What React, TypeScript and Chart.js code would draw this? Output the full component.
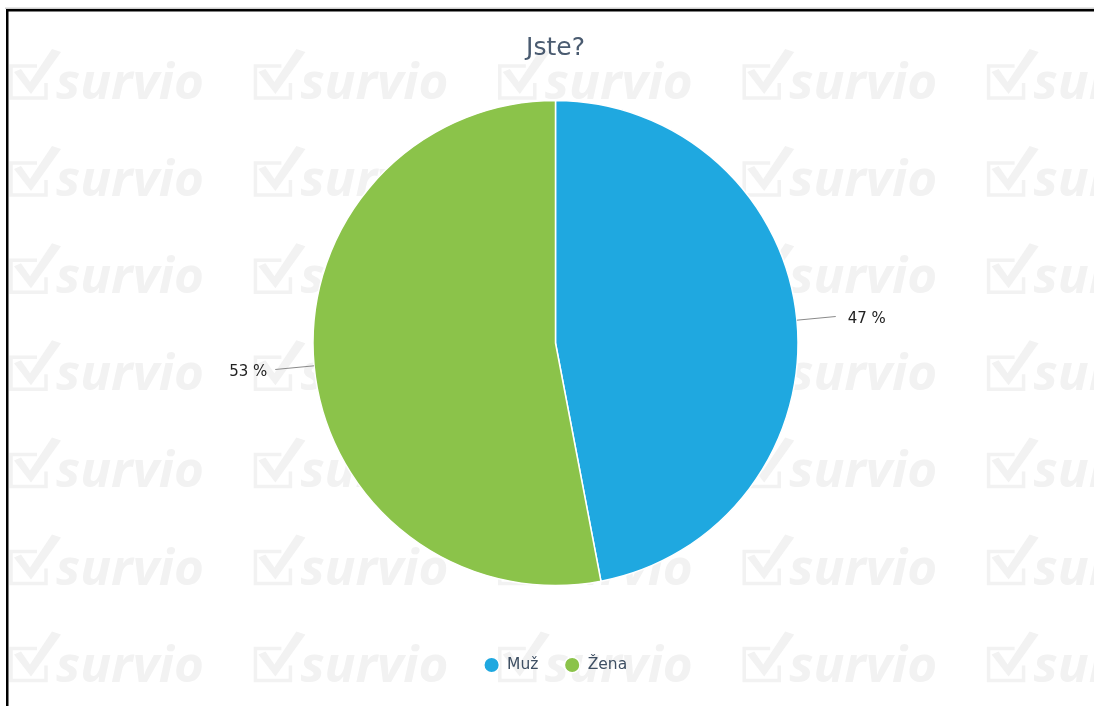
import React, { useEffect, useRef } from "react";
import { Chart, registerables } from "chart.js";

Chart.register(...registerables);

const titleText = "Jste?";
const categories = ["Muž", "Žena"];
const values = [47, 53];
const sliceColors = ["#1fa8e0", "#8bc34a"];
const valueSuffix = " %";
const watermarkText = "survio";

const FONT = '"DejaVu Sans", sans-serif';

const watermarkPlugin = {
  id: "watermark",
  beforeDraw(chart: any) {
    const ctx = chart.ctx as CanvasRenderingContext2D;
    ctx.save();
    ctx.fillStyle = "#ffffff";
    ctx.fillRect(0, 0, chart.width, chart.height);
    const col = "#f2f2f2";
    ctx.font = 'italic bold 50px "Open Sans", sans-serif';
    const w = ctx.measureText(watermarkText).width;
    const sx = 148 / w;
    for (let i = 0; i < 5; i++) {
      for (let j = 0; j < 7; j++) {
        const x0 = 9 + 244.4 * i;
        const yb = 99 + 97.1 * j;
        ctx.strokeStyle = col;
        ctx.lineWidth = 3.5;
        ctx.lineJoin = "miter";
        ctx.beginPath();
        ctx.moveTo(x0 + 28, yb - 33);
        ctx.lineTo(x0 + 2, yb - 33);
        ctx.lineTo(x0 + 2, yb - 1);
        ctx.lineTo(x0 + 37, yb - 1);
        ctx.lineTo(x0 + 37, yb - 16);
        ctx.stroke();
        ctx.fillStyle = col;
        ctx.beginPath();
        ctx.moveTo(x0 + 5, yb - 27);
        ctx.lineTo(x0 + 12, yb - 30);
        ctx.lineTo(x0 + 21, yb - 17);
        ctx.lineTo(x0 + 43, yb - 50);
        ctx.lineTo(x0 + 52, yb - 47);
        ctx.lineTo(x0 + 22, yb - 5);
        ctx.closePath();
        ctx.fill();
        ctx.save();
        ctx.translate(x0 + 47, yb);
        ctx.scale(sx, 1);
        ctx.textAlign = "left";
        ctx.textBaseline = "alphabetic";
        ctx.fillText(watermarkText, 0, 0);
        ctx.restore();
      }
    }
    ctx.restore();
  },
  afterDraw(chart: any) {
    const ctx = chart.ctx as CanvasRenderingContext2D;
    ctx.save();
    ctx.fillStyle = "#cfcfcf";
    ctx.fillRect(5, 7.5, chart.width - 5, 1.5);
    ctx.fillStyle = "#000000";
    ctx.fillRect(6, 9, chart.width - 6, 2.5);
    ctx.fillRect(6, 9, 2.5, chart.height - 9);
    ctx.restore();
  },
};

const pieLabelPlugin = {
  id: "pieLabels",
  afterDatasetsDraw(chart: any) {
    const ctx = chart.ctx as CanvasRenderingContext2D;
    const meta = chart.getDatasetMeta(0);
    ctx.save();
    meta.data.forEach((arc: any, i: number) => {
      const p = arc.getProps(["x", "y", "startAngle", "endAngle", "outerRadius"], true);
      const mid = (p.startAngle + p.endAngle) / 2;
      const c = Math.cos(mid);
      const s = Math.sin(mid);
      const x1 = p.x + c * p.outerRadius;
      const y1 = p.y + s * p.outerRadius;
      const x2 = p.x + c * (p.outerRadius + 39);
      const y2 = p.y + s * (p.outerRadius + 39);
      ctx.strokeStyle = "#8a8a8a";
      ctx.lineWidth = 1;
      ctx.beginPath();
      ctx.moveTo(x1, y1);
      ctx.lineTo(x2, y2);
      ctx.stroke();
      ctx.fillStyle = "#222222";
      ctx.font = "15px " + FONT;
      ctx.textBaseline = "middle";
      const right = c >= 0;
      ctx.textAlign = right ? "left" : "right";
      ctx.fillText(values[i] + valueSuffix, x2 + (right ? 12 : -8), y2 + 3);
    });
    ctx.restore();
  },
};

export default function App() {
  const ref = useRef<HTMLCanvasElement>(null);
  useEffect(() => {
    if (!ref.current) return;
    const chart = new Chart(ref.current, {
      type: "pie",
      data: {
        labels: categories,
        datasets: [
          {
            data: values,
            backgroundColor: sliceColors,
            borderColor: "#ffffff",
            borderWidth: 1.5,
            radius: 242.5,
          } as any,
        ],
      },
      options: {
        responsive: false,
        animation: false,
        layout: { padding: { left: 17, right: 0, top: 0, bottom: 23.25 } },
        plugins: {
          title: {
            display: true,
            text: titleText,
            color: "#4a5b70",
            font: { family: FONT, size: 25, weight: "normal" },
            padding: { top: 33.4, bottom: 10 },
          },
          legend: {
            display: true,
            position: "bottom",
            title: {
              display: true,
              text: " ",
              font: { size: 10 },
              padding: { top: 6.65, bottom: 0 },
            },
            labels: {
              usePointStyle: true,
              pointStyle: "circle",
              boxWidth: 15.5,
              boxHeight: 11,
              padding: 26,
              color: "#3e4f63",
              font: { family: FONT, size: 15.5 },
            },
          },
          tooltip: { enabled: false },
        },
      },
      plugins: [watermarkPlugin, pieLabelPlugin],
    });
    return () => chart.destroy();
  }, []);
  return (
    <div style={{ position: "fixed", left: 0, top: 0, width: 1094, height: 706 }}>
      <canvas ref={ref} width={1094} height={706} style={{ display: "block" }} />
    </div>
  );
}
